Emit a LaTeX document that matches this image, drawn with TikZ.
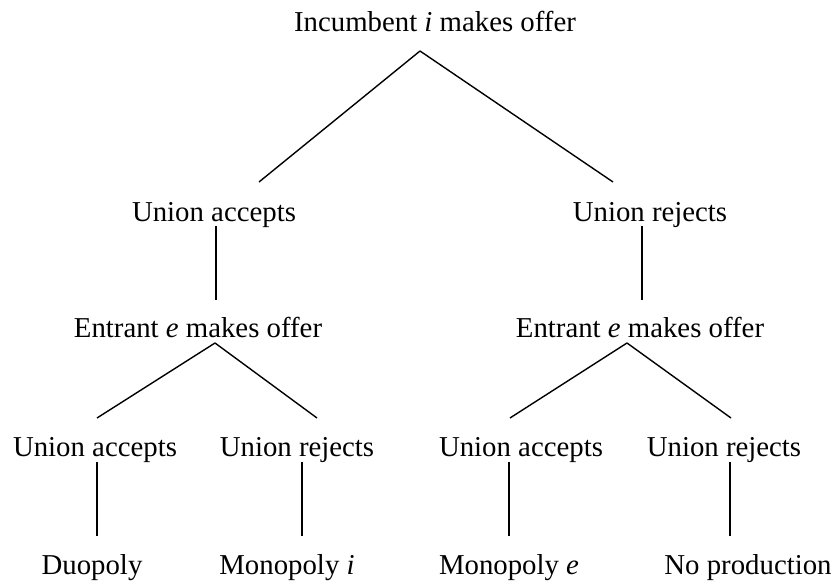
\documentclass[tikz,border=0pt]{standalone}
\usepackage{fontspec}
\setmainfont{Liberation Serif}
\begin{document}
\begin{tikzpicture}[x=0.5pt, y=-0.5pt,
    stage/.style={anchor=base, inner sep=0pt, font=\fontsize{14.4}{17}\selectfont},
    line width=0.7pt,
  ]
    \useasboundingbox (0, 0) rectangle (836, 582);

    \node[stage] (inc)    at (435, 32)  {Incumbent \textit{i} makes offer};
    \node[stage] (ua)     at (214, 222) {Union accepts};
    \node[stage] (ur)     at (650, 222) {Union rejects};
    \node[stage] (ent1)   at (198, 338) {Entrant \textit{e} makes offer};
    \node[stage] (ent2)   at (640, 338) {Entrant \textit{e} makes offer};
    \node[stage] (ua1)    at (95, 457)  {Union accepts};
    \node[stage] (ur1)    at (297, 457) {Union rejects};
    \node[stage] (ua2)    at (521, 457) {Union accepts};
    \node[stage] (ur2)    at (724, 457) {Union rejects};
    \node[stage] (duo)    at (92, 575)  {Duopoly};
    \node[stage] (monoi)  at (287, 575) {Monopoly \textit{i}};
    \node[stage] (monoe)  at (509, 575) {Monopoly \textit{e}};
    \node[stage] (noprod) at (748, 575) {No production};

    \coordinate (inc-fork)  at (420, 51);
    \coordinate (ua-top)    at (259, 182);
    \coordinate (ur-top)    at (613, 182);
    \coordinate (ua-foot)   at (216, 226);
    \coordinate (ur-foot)   at (642, 226);
    \coordinate (ent1-top)  at (216, 300);
    \coordinate (ent2-top)  at (642, 300);
    \coordinate (ent1-fork) at (215, 343);
    \coordinate (ent2-fork) at (627, 343);
    \coordinate (ua1-top)   at (97, 418);
    \coordinate (ur1-top)   at (317, 418);
    \coordinate (ua2-top)   at (510, 418);
    \coordinate (ur2-top)   at (731, 418);
    \coordinate (ua1-foot)  at (97, 462);
    \coordinate (ur1-foot)  at (302, 462);
    \coordinate (ua2-foot)  at (509, 462);
    \coordinate (ur2-foot)  at (730, 462);
    \coordinate (duo-top)   at (97, 536);
    \coordinate (monoi-top) at (302, 536);
    \coordinate (monoe-top) at (509, 536);
    \coordinate (nop-top)   at (730, 536);

    \draw (inc-fork) -- (ua-top);
    \draw (inc-fork) -- (ur-top);
    \draw (ua-foot) -- (ent1-top);
    \draw (ur-foot) -- (ent2-top);
    \draw (ent1-fork) -- (ua1-top);
    \draw (ent1-fork) -- (ur1-top);
    \draw (ent2-fork) -- (ua2-top);
    \draw (ent2-fork) -- (ur2-top);
    \draw (ua1-foot) -- (duo-top);
    \draw (ur1-foot) -- (monoi-top);
    \draw (ua2-foot) -- (monoe-top);
    \draw (ur2-foot) -- (nop-top);
  \end{tikzpicture}
\end{document}
